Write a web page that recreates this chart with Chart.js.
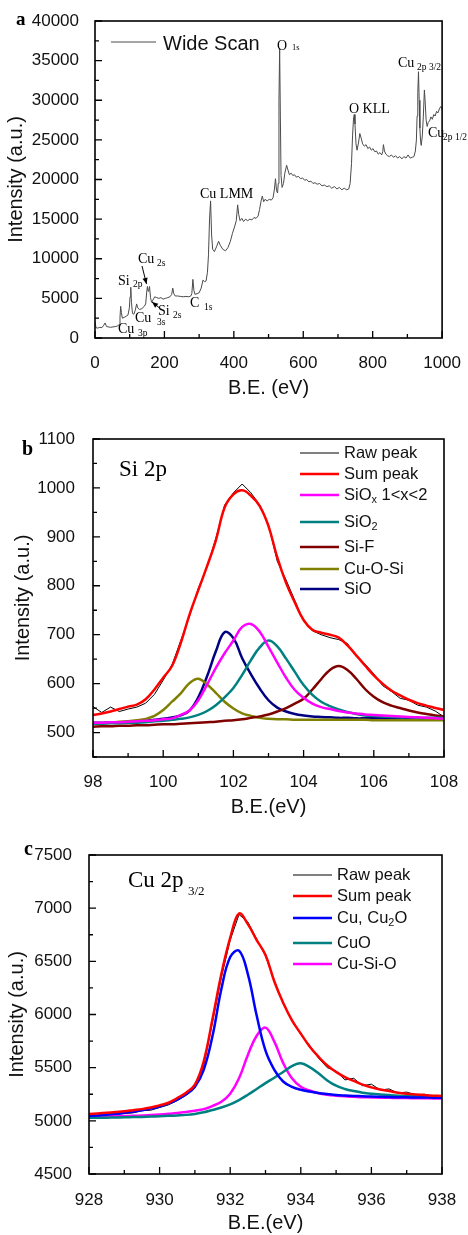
<!DOCTYPE html>
<html><head><meta charset="utf-8">
<script src="https://cdn.jsdelivr.net/npm/chart.js@4.4.1/dist/chart.umd.min.js"></script>
<style>
html,body{margin:0;padding:0;background:#fff;}
body{width:468px;height:1235px;position:relative;overflow:hidden;}
canvas{position:absolute;left:0;}
</style></head><body>
<canvas id="ca" width="468" height="400" style="top:0px"></canvas>
<canvas id="cb" width="468" height="435" style="top:400px"></canvas>
<canvas id="cc" width="468" height="400" style="top:835px"></canvas>
<script>
// ---------- Panel a: wide scan ----------
const aBE = [0,3,8,14,20,25,29,33,38,45,52,60,66,70,72,74,76,79,84,90,95,99,101,103,105,108,112,116,120,123,128,135,142,146,149,151,153,155,157,160,163,167,172,178,184,190,196,203,210,216,221,224,227,231,238,246,254,262,270,276,279,282,285,288,294,300,306,311,316,320,324,327,330,333,336,339,344,350,356,361,368,376,383,390,396,402,407,411,414,418,423,428,434,440,446,452,458,464,470,474,479,482,486,490,496,502,508,513,517,520,523,526,528,530,532,534,536,539,543,547,552,556,560,565,570,575,580,586,592,598,604,610,616,622,628,634,640,647,654,661,668,675,682,690,697,704,711,718,725,731,735,739,742,745,747,749,752,755,759,763,767,771,776,781,786,791,796,801,806,811,816,821,826,829,831,834,838,843,848,854,860,866,872,878,884,890,896,902,908,914,919,923,926,928,930,932,934,936,938,940,943,946,949,951,954,957,960,964,968,972,976,980,984,988,992,996,1000];
const aCounts = [2000,1300,1250,1350,1300,1600,1900,1450,1400,1350,1400,1450,1550,1700,2600,4000,3200,2500,2600,2750,2900,3800,5200,6400,4500,3100,3000,3500,4300,3800,3600,3700,4000,4300,5800,6500,5900,6000,6500,5100,4500,4800,5200,5100,5000,5100,4900,5000,5100,5200,5500,6300,5600,5300,5300,5250,5200,5250,5200,5300,5600,7400,6000,5500,5600,5700,6300,7300,7100,7200,8300,10500,15000,17300,13000,11200,10900,11500,12200,11700,11200,11000,11400,12200,13200,14000,14800,16800,15600,14800,15100,14700,15000,14800,15000,14900,15200,15100,15400,16200,17400,17900,17200,17500,17300,17500,17400,17700,18800,20100,18600,18300,19500,30000,36600,28000,20500,19000,19500,20800,21800,21200,20600,20800,20500,20600,20300,20400,20100,20200,19900,20000,19700,19800,19500,19600,19400,19500,19200,19300,19100,19200,18900,19100,18800,19000,18700,18900,18700,18800,19500,22000,25500,27800,28200,27000,24500,23700,24600,25800,25200,24500,24200,24400,23900,24100,23700,23900,23500,23600,23200,23400,23100,23500,24400,23600,23200,23000,22900,23100,22800,23000,22700,22900,22600,22900,22700,23100,22700,22800,22900,23600,25000,28000,31000,33600,30000,26500,24800,24300,25500,28000,31300,30000,27500,26700,27200,27400,27900,27600,28200,28000,28600,28400,28900,29200,28900];
const aXTicks = [0,200,400,600,800,1000];
const aYTicks = [0,5000,10000,15000,20000,25000,30000,35000,40000];

// ---------- Panel b: Si 2p ----------
const bBE = [98,98.25,98.5,98.75,99,99.25,99.5,99.75,100,100.25,100.5,100.75,101,101.25,101.5,101.75,102,102.25,102.5,102.75,103,103.25,103.5,103.75,104,104.25,104.5,104.75,105,105.25,105.5,105.75,106,106.25,106.5,106.75,107,107.25,107.5,107.75,108];
const bRaw   = [553,541,552,543,548,552,560,578,607,638,688,738,795,838,897,965,990,1008,990,965,925,850,812,770,728,708,700,694,690,682,655,640,620,596,584,570,566,556,552,544,532];
const bSum   = [536,539,543,548,553,557,568,588,612,636,683,741,791,840,893,960,987,995,984,963,922,858,806,766,730,710,704,700,694,678,658,637,617,600,586,576,567,560,555,550,546];
const bSiOx  = [520,520,521,521,522,523,524,525,527,529,536,545,566,598,632,662,688,716,722,706,675,643,612,587,571,559,552,548,544,541,539,537,536,535,534,533,532,531,530,529,528];
const bSiO2  = [518,518,519,519,520,520,521,523,524,526,528,531,536,544,556,572,591,618,648,674,688,676,651,624,597,577,563,554,547,542,538,535,534,533,532,531,531,530,530,530,530];
const bSiF   = [512,513,513,514,514,515,515,516,517,517,518,519,520,521,522,524,525,527,530,533,537,543,550,559,569,588,609,628,636,628,610,589,573,562,555,550,545,541,538,535,533];
const bCuOSi = [518,519,520,522,523,525,528,534,546,563,580,601,610,598,581,563,549,539,534,530,528,527,527,526,526,526,526,526,526,526,526,526,525,525,525,525,525,525,525,525,525];
const bSiO   = [520,520,521,521,522,523,524,526,528,531,535,545,572,615,666,705,693,652,619,590,566,551,543,538,535,533,532,531,530,530,529,529,529,529,528,528,528,528,528,528,528];
const bXTicks = [98,100,102,104,106,108];
const bYTicks = [500,600,700,800,900,1000,1100];

// ---------- Panel c: Cu 2p3/2 ----------
const cBE = [928,928.25,928.5,928.75,929,929.25,929.5,929.75,930,930.25,930.5,930.75,931,931.25,931.5,931.75,932,932.25,932.5,932.75,933,933.25,933.5,933.75,934,934.25,934.5,934.75,935,935.25,935.5,935.75,936,936.25,936.5,936.75,937,937.25,937.5,937.75,938];
const cRaw   = [5040,5052,5048,5060,5068,5075,5095,5100,5125,5150,5190,5240,5310,5520,5930,6350,6700,6940,6870,6710,6550,6320,6100,5950,5810,5710,5590,5500,5470,5385,5400,5330,5345,5290,5300,5262,5270,5245,5250,5232,5238];
const cSum   = [5065,5070,5076,5083,5090,5100,5110,5125,5145,5170,5215,5265,5340,5560,5960,6380,6720,6950,6850,6700,6560,6310,6110,5945,5820,5700,5603,5520,5460,5410,5375,5340,5315,5295,5280,5265,5255,5248,5242,5237,5233];
const cCu    = [5045,5051,5058,5066,5076,5086,5099,5115,5135,5164,5200,5250,5321,5480,5800,6240,6540,6600,6380,5990,5660,5480,5370,5320,5292,5275,5262,5252,5243,5238,5234,5231,5228,5226,5224,5222,5221,5220,5219,5218,5218];
const cCuO   = [5028,5029,5030,5031,5033,5035,5037,5040,5043,5047,5051,5056,5065,5080,5102,5125,5155,5195,5245,5300,5355,5405,5460,5515,5541,5505,5448,5380,5330,5300,5280,5265,5255,5248,5242,5237,5234,5232,5230,5228,5227];
const cCuSiO = [5040,5041,5042,5043,5045,5047,5050,5055,5060,5066,5073,5083,5095,5110,5140,5180,5255,5400,5620,5800,5877,5745,5545,5400,5320,5285,5260,5245,5236,5230,5226,5222,5220,5218,5216,5215,5214,5213,5212,5211,5210];
const cXTicks = [928,930,932,934,936,938];
const cYTicks = [4500,5000,5500,6000,6500,7000,7500];

// ---------- helpers ----------
const SANS = '"Liberation Sans", Arial, Helvetica, sans-serif';
const SERIF = '"Liberation Serif", "Times New Roman", Times, serif';
const W = 468;

function pts(xs, ys) { return xs.map((x, i) => ({x: x, y: ys[i]})); }

function ds(label, xs, ys, color, width, smooth, order) {
  return {label: label, data: pts(xs, ys), borderColor: color, backgroundColor: color,
    borderWidth: width, pointRadius: 0, fill: false, order: order,
    tension: smooth ? 0.4 : 0, borderJoinStyle: 'round', borderCapStyle: 'round'};
}

function rich(ctx, x, y, str, size, family, color) {
  const parts = [];
  const re = /_\{([^}]*)\}/g;
  let last = 0, m;
  while ((m = re.exec(str)) !== null) {
    if (m.index > last) parts.push([str.slice(last, m.index), false]);
    parts.push([m[1], true]);
    last = re.lastIndex;
  }
  if (last < str.length) parts.push([str.slice(last), false]);
  ctx.fillStyle = color || '#000';
  ctx.textAlign = 'left';
  ctx.textBaseline = 'middle';
  let cx = x;
  for (const [t, sub] of parts) {
    const s = sub ? size * 0.66 : size;
    ctx.font = s + 'px ' + family;
    ctx.fillText(t, cx, y + (sub ? size * 0.32 : 0));
    cx += ctx.measureText(t).width;
  }
}

function frameTicks(xStep, xMajor, yStep, yMajor) {
  return {id: 'frameTicks', afterDatasetsDraw(chart) {
    const {ctx, chartArea: a, scales: {x, y}} = chart;
    ctx.save();
    ctx.strokeStyle = '#000';
    ctx.lineWidth = 1.3;
    ctx.beginPath();
    const nx = Math.round((x.max - x.min) / xStep);
    for (let i = 0; i <= nx; i++) {
      const v = x.min + i * xStep;
      const p = x.getPixelForValue(v);
      const maj = Math.abs(v / xMajor - Math.round(v / xMajor)) < 1e-6;
      ctx.moveTo(p, a.bottom); ctx.lineTo(p, a.bottom - (maj ? 7 : 4));
    }
    const ny = Math.round((y.max - y.min) / yStep);
    for (let i = 0; i <= ny; i++) {
      const v = y.min + i * yStep;
      const p = y.getPixelForValue(v);
      const maj = Math.abs(v / yMajor - Math.round(v / yMajor)) < 1e-6;
      ctx.moveTo(a.left, p); ctx.lineTo(a.left + (maj ? 7 : 4), p);
    }
    ctx.stroke();
    ctx.lineWidth = 1.6;
    ctx.strokeRect(a.left, a.top, a.right - a.left, a.bottom - a.top);
    ctx.restore();
  }};
}

function legendPlugin(rows, lineX0, lineX1, textX, size) {
  return {id: 'legendBox', afterDraw(chart) {
    const ctx = chart.ctx;
    ctx.save();
    chart.data.datasets.forEach((d, i) => {
      const yy = rows[i];
      ctx.strokeStyle = d.borderColor;
      ctx.lineWidth = d.borderWidth < 1.5 ? 1 : 2.5;
      ctx.beginPath(); ctx.moveTo(lineX0, yy); ctx.lineTo(lineX1, yy); ctx.stroke();
      rich(ctx, textX, yy, d.label, size, SANS, '#111');
    });
    ctx.restore();
  }};
}

function decoPlugin(items, arrows) {
  return {id: 'deco', afterDraw(chart) {
    const ctx = chart.ctx;
    ctx.save();
    for (const it of items) {
      ctx.font = (it.bold ? 'bold ' : '') + it.size + 'px ' + (it.fam || SERIF);
      ctx.fillStyle = '#000';
      ctx.textAlign = 'left';
      ctx.textBaseline = 'alphabetic';
      ctx.fillText(it.t, it.x, it.y);
    }
    if (arrows) {
      ctx.strokeStyle = '#000'; ctx.fillStyle = '#000'; ctx.lineWidth = 1;
      for (const [x0, y0, x1, y1] of arrows) {
        ctx.beginPath(); ctx.moveTo(x0, y0); ctx.lineTo(x1, y1); ctx.stroke();
        const ang = Math.atan2(y1 - y0, x1 - x0);
        const L = 6, Wd = 2.6;
        ctx.beginPath();
        ctx.moveTo(x1, y1);
        ctx.lineTo(x1 - L * Math.cos(ang) + Wd * Math.sin(ang), y1 - L * Math.sin(ang) - Wd * Math.cos(ang));
        ctx.lineTo(x1 - L * Math.cos(ang) - Wd * Math.sin(ang), y1 - L * Math.sin(ang) + Wd * Math.cos(ang));
        ctx.closePath(); ctx.fill();
      }
    }
    ctx.restore();
  }};
}

function makeChart(id, c) {
  return new Chart(document.getElementById(id), {
    type: 'line',
    data: {datasets: c.datasets},
    options: {
      responsive: false, animation: false, devicePixelRatio: 1,
      layout: {padding: {left: 0, top: c.plotTop, right: W - c.plotRight, bottom: 0}},
      plugins: {legend: {display: false}, tooltip: {enabled: false}},
      scales: {
        x: {type: 'linear', min: c.xMin, max: c.xMax,
          afterBuildTicks: s => { s.ticks = c.xTicks.map(v => ({value: v})); },
          afterFit: s => { s.height = c.canvasH - c.plotBottom; },
          grid: {display: false}, border: {display: false},
          ticks: {padding: c.xTickPad, color: '#111', autoSkip: false, maxRotation: 0,
            font: {family: SANS, size: 17}, callback: v => String(v)},
          title: {display: true, text: c.xTitle, color: '#111',
            font: {family: SANS, size: 20}, padding: {top: 0, bottom: c.xTitlePad}}},
        y: {type: 'linear', min: c.yMin, max: c.yMax,
          afterBuildTicks: s => { s.ticks = c.yTicks.map(v => ({value: v})); },
          afterFit: s => { s.width = c.plotLeft; },
          grid: {display: false}, border: {display: false},
          ticks: {padding: c.yTickPad, color: '#111', autoSkip: false,
            font: {family: SANS, size: 17}, callback: v => String(v)},
          title: {display: true, text: 'Intensity (a.u.)', color: '#111',
            font: {family: SANS, size: 20}, padding: {top: c.yTitlePad, bottom: 0}}}
      }
    },
    plugins: c.plugins
  });
}

// ---------- Panel a ----------
makeChart('ca', {
  datasets: [ds('Wide Scan', aBE, aCounts, '#4a4a4a', 1, false, 0)],
  xMin: 0, xMax: 1000, yMin: 0, yMax: 40000, xTicks: aXTicks, yTicks: aYTicks,
  plotLeft: 95, plotRight: 443, plotTop: 21, plotBottom: 338, canvasH: 400,
  xTickPad: 7, yTickPad: 8, xTitle: 'B.E. (eV)', xTitlePad: 0, yTitlePad: 4,
  plugins: [frameTicks(100, 200, 2500, 5000),
    {id: 'legA', afterDraw(chart) {
      const ctx = chart.ctx, d = chart.data.datasets[0];
      ctx.save(); ctx.strokeStyle = d.borderColor; ctx.lineWidth = 1;
      ctx.beginPath(); ctx.moveTo(111, 42); ctx.lineTo(156, 42); ctx.stroke();
      rich(ctx, 163, 44, d.label, 20, SANS, '#111'); ctx.restore();
    }},
    decoPlugin([
      {t: 'a', x: 16, y: 25, size: 19, bold: true},
      {t: 'O', x: 277, y: 50, size: 14}, {t: '1s', x: 292, y: 50, size: 8.5},
      {t: 'Cu', x: 398, y: 67, size: 14}, {t: '2p 3/2', x: 417, y: 70, size: 9.5},
      {t: 'O KLL', x: 349, y: 113, size: 14},
      {t: 'Cu', x: 428, y: 137, size: 14}, {t: '2p 1/2', x: 443, y: 140, size: 9.5},
      {t: 'Cu LMM', x: 200, y: 198, size: 14},
      {t: 'Cu', x: 138, y: 263, size: 14}, {t: '2s', x: 157, y: 266, size: 9.5},
      {t: 'Si', x: 118, y: 285, size: 14}, {t: '2p', x: 133, y: 287, size: 9.5},
      {t: 'Si', x: 158, y: 315, size: 14}, {t: '2s', x: 173, y: 318, size: 9.5},
      {t: 'Cu', x: 135, y: 322, size: 14}, {t: '3s', x: 157, y: 325, size: 9.5},
      {t: 'Cu', x: 118, y: 333, size: 14}, {t: '3p', x: 138, y: 336, size: 9.5},
      {t: 'C', x: 190, y: 307, size: 14}, {t: '1s', x: 204, y: 310, size: 9.5}
    ], [[142, 266, 146.5, 284], [159, 307.5, 152, 302]])]
});

// ---------- Panel b ----------
makeChart('cb', {
  datasets: [
    ds('Raw peak', bBE, bRaw, '#000000', 1, false, 1),
    ds('Sum peak', bBE, bSum, '#ff0000', 2.5, true, 0),
    ds('SiO_{x} 1<x<2', bBE, bSiOx, '#ff00ff', 2.5, true, 0),
    ds('SiO_{2}', bBE, bSiO2, '#008080', 2.5, true, 0),
    ds('Si-F', bBE, bSiF, '#800000', 2.5, true, 0),
    ds('Cu-O-Si', bBE, bCuOSi, '#808000', 2.5, true, 0),
    ds('SiO', bBE, bSiO, '#000080', 2.5, true, 0)
  ],
  xMin: 98, xMax: 108, yMin: 450, yMax: 1100, xTicks: bXTicks, yTicks: bYTicks,
  plotLeft: 93, plotRight: 444, plotTop: 39, plotBottom: 357, canvasH: 435,
  xTickPad: 7, yTickPad: 10, xTitle: 'B.E.(eV)', xTitlePad: 16, yTitlePad: 11.5,
  plugins: [frameTicks(1, 2, 50, 100),
    legendPlugin([53, 74, 95, 122, 147, 169, 189], 300, 339, 344, 16.5),
    decoPlugin([
      {t: 'b', x: 22, y: 55, size: 20, bold: true},
      {t: 'Si 2p', x: 119, y: 76, size: 23}
    ])]
});

// ---------- Panel c ----------
makeChart('cc', {
  datasets: [
    ds('Raw peak', cBE, cRaw, '#000000', 1, false, 1),
    ds('Sum peak', cBE, cSum, '#ff0000', 2.5, true, 0),
    ds('Cu, Cu_{2}O', cBE, cCu, '#0000ff', 2.5, true, 0),
    ds('CuO', cBE, cCuO, '#008080', 2.5, true, 0),
    ds('Cu-Si-O', cBE, cCuSiO, '#ff00ff', 2.5, true, 0)
  ],
  xMin: 928, xMax: 938, yMin: 4500, yMax: 7500, xTicks: cXTicks, yTicks: cYTicks,
  plotLeft: 89, plotRight: 442, plotTop: 20, plotBottom: 339, canvasH: 400,
  xTickPad: 8, yTickPad: 9, xTitle: 'B.E.(eV)', xTitlePad: 0, yTitlePad: 5.5,
  plugins: [frameTicks(1, 2, 250, 500),
    legendPlugin([40, 61, 83, 108, 129], 293, 332, 337, 16.5),
    decoPlugin([
      {t: 'c', x: 24, y: 20, size: 20, bold: true},
      {t: 'Cu 2p', x: 128, y: 52, size: 23},
      {t: '3/2', x: 188, y: 60, size: 13}
    ])]
});
</script>
</body></html>
